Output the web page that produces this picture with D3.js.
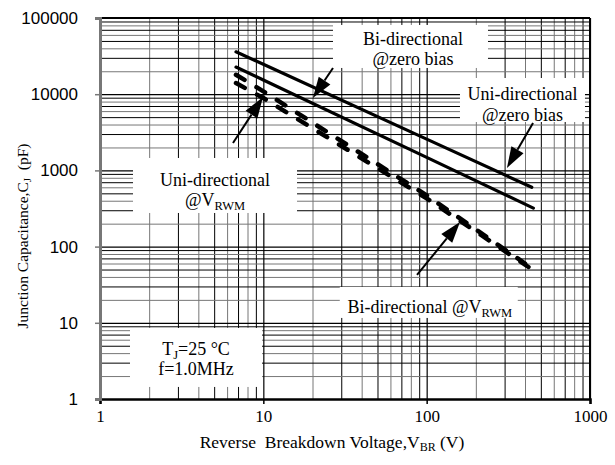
<!DOCTYPE html>
<html>
<head>
<meta charset="utf-8">
<script src="https://cdn.jsdelivr.net/npm/d3@7"></script>
<style>
  body { margin: 0; background: #fff; }
  text { white-space: pre; }
</style>
</head>
<body>
<script>
// reverse breakdown voltage (V) and capacitance (pF)
var uniZeroV = [6.8, 10, 100, 440];
var uniZeroC = [36000, 24700, 2575, 600];
var biZeroV = [6.8, 10, 100, 450];
var biZeroC = [22700, 15350, 1480, 320];
var uniRwmV = [6.8, 10, 100, 400];
var uniRwmC = [18000, 10900, 470, 60];
var biRwmV = [6.8, 10, 100, 420];
var biRwmC = [14000, 8900, 430, 54];

var xTicks = [1, 10, 100, 1000];
var yTicks = [1, 10, 100, 1000, 10000, 100000];

var w = 615, h = 465;
var pLeft = 100, pRight = 590, pTop = 18, pBottom = 399;

var x = d3.scaleLog().domain([1, 1000]).range([pLeft, pRight]);
var y = d3.scaleLog().domain([1, 100000]).range([pBottom, pTop]);

var serif = "Liberation Serif, Times New Roman, serif";

var svg = d3.select("body").append("svg")
  .attr("width", w)
  .attr("height", h);

// minor / major grid
var xMinor = [], yMinor = [];
for (var d = 1; d < 1000; d *= 10)
  for (var k = 2; k <= 9; k++) xMinor.push(d * k);
for (var d2 = 1; d2 < 100000; d2 *= 10)
  for (var k2 = 2; k2 <= 9; k2++) yMinor.push(d2 * k2);

svg.append("g")
  .attr("transform", "translate(0," + pBottom + ")")
  .call(d3.axisBottom(x).tickValues(xMinor).tickSize(-(pBottom - pTop)).tickFormat(""))
  .call(function(g) { g.select(".domain").remove(); })
  .selectAll("line")
  .attr("stroke", function(d, i) { return i % 2 ? "#000" : "#777"; })
  .attr("stroke-width", 1);

svg.append("g")
  .attr("transform", "translate(" + pLeft + ",0)")
  .call(d3.axisLeft(y).tickValues(yMinor).tickSize(-(pRight - pLeft)).tickFormat(""))
  .call(function(g) { g.select(".domain").remove(); })
  .selectAll("line")
  .attr("stroke", function(d, i) { return i % 2 ? "#000" : "#777"; })
  .attr("stroke-width", 1);

svg.append("g")
  .attr("transform", "translate(0," + pBottom + ")")
  .call(d3.axisBottom(x).tickValues(xTicks).tickSize(-(pBottom - pTop)).tickFormat(""))
  .call(function(g) { g.select(".domain").remove(); })
  .selectAll("line").attr("stroke", "#000").attr("stroke-width", 1.2);

svg.append("g")
  .attr("transform", "translate(" + pLeft + ",0)")
  .call(d3.axisLeft(y).tickValues(yTicks).tickSize(-(pRight - pLeft)).tickFormat(""))
  .call(function(g) { g.select(".domain").remove(); })
  .selectAll("line").attr("stroke", "#000").attr("stroke-width", 1.2);

// curves
var line = d3.line()
  .x(function(p) { return x(p[0]); })
  .y(function(p) { return y(p[1]); });

function pts(vs, cs) { return vs.map(function(v, i) { return [v, cs[i]]; }); }

svg.append("path").datum(pts(uniZeroV, uniZeroC))
  .attr("d", line).attr("fill", "none").attr("stroke", "#000")
  .attr("stroke-width", 3.2).attr("stroke-linecap", "round");
svg.append("path").datum(pts(biZeroV, biZeroC))
  .attr("d", line).attr("fill", "none").attr("stroke", "#000")
  .attr("stroke-width", 3.2).attr("stroke-linecap", "round");
svg.append("path").datum(pts(uniRwmV, uniRwmC))
  .attr("d", line).attr("fill", "none").attr("stroke", "#000")
  .attr("stroke-width", 4.5).attr("stroke-linecap", "round")
  .attr("stroke-dasharray", "10,14");
svg.append("path").datum(pts(biRwmV, biRwmC))
  .attr("d", line).attr("fill", "none").attr("stroke", "#000")
  .attr("stroke-width", 4.5).attr("stroke-linecap", "round")
  .attr("stroke-dasharray", "10,14");

// frame
svg.append("line").attr("x1", pLeft).attr("x2", pRight).attr("y1", pTop).attr("y2", pTop)
  .attr("stroke", "#000").attr("stroke-width", 2);
svg.append("line").attr("x1", pRight).attr("x2", pRight).attr("y1", pTop).attr("y2", pBottom)
  .attr("stroke", "#000").attr("stroke-width", 2);

// axes
var xAxis = svg.append("g")
  .attr("transform", "translate(0," + pBottom + ")")
  .call(d3.axisBottom(x).tickValues(xTicks).tickSize(5).tickPadding(6).tickFormat(d3.format("d")));
xAxis.select(".domain").attr("stroke", "#000").attr("stroke-width", 2.5);
xAxis.selectAll("line").attr("stroke", "#000").attr("stroke-width", 1.5);
xAxis.selectAll("text")
  .attr("font-family", serif)
  .attr("font-size", 17).attr("fill", "#000");

var yAxis = svg.append("g")
  .attr("transform", "translate(" + pLeft + ",0)")
  .call(d3.axisLeft(y).tickValues(yTicks).tickSize(5).tickPadding(17).tickFormat(d3.format("d")));
yAxis.select(".domain").attr("stroke", "#777").attr("stroke-width", 3);
yAxis.selectAll("line").attr("stroke", "#777").attr("stroke-width", 1.5);
yAxis.selectAll("text")
  .attr("font-family", "Liberation Sans, Arial, sans-serif")
  .attr("font-size", 17).attr("fill", "#000");

// axis titles
var xt = svg.append("text")
  .attr("x", 332).attr("y", 448)
  .attr("text-anchor", "middle")
  .attr("font-family", serif).attr("font-size", 17.5);
xt.append("tspan").text("Reverse  Breakdown Voltage,V");
xt.append("tspan").attr("font-size", 12).attr("dy", 3).text("BR");
xt.append("tspan").attr("dy", -3).text(" (V)");

var yt = svg.append("text")
  .attr("transform", "translate(28,236) rotate(-90)")
  .attr("text-anchor", "middle")
  .attr("font-family", serif).attr("font-size", 15.5);
yt.append("tspan").text("Junction Capacitance,C");
yt.append("tspan").attr("font-size", 11).attr("dy", 3).text("J");
yt.append("tspan").attr("dy", -3).text("  (pF)");

// arrows (data coords)
var arrows = [
  { from: [6.52, 2290], to: [9.95, 9190] },
  { from: [26.7, 22100], to: [20.1, 8920] },
  { from: [448, 4190], to: [310, 1075] },
  { from: [87.3, 42.4], to: [160, 210] }
];

arrows.forEach(function(a) {
  var x1 = x(a.from[0]), y1 = y(a.from[1]);
  var x2 = x(a.to[0]), y2 = y(a.to[1]);
  var ang = Math.atan2(y2 - y1, x2 - x1);
  var len = 21, half = 7;
  var bx = x2 - len * Math.cos(ang), by = y2 - len * Math.sin(ang);
  svg.append("line")
    .attr("x1", x1).attr("y1", y1).attr("x2", bx).attr("y2", by)
    .attr("stroke", "#000").attr("stroke-width", 2);
  svg.append("path")
    .attr("d", "M" + x2 + "," + y2 +
      "L" + (bx + half * Math.sin(ang)) + "," + (by - half * Math.cos(ang)) +
      "L" + (bx - half * Math.sin(ang)) + "," + (by + half * Math.cos(ang)) + "Z")
    .attr("fill", "#000");
});

// label boxes: centre in data coords, text baseline offset from centre
var labels = [
  { at: [79.6, 42300], w: 155, h: 43, dx: 2.5, dy: -1.5, lines: [["Bi-directional"], ["@zero bias"]] },
  { at: [386, 8390], w: 125, h: 44, dx: 0, dy: 0, lines: [["Uni-directional"], ["@zero bias"]] },
  { at: [5.06, 634], w: 164, h: 55, dx: 0, dy: 0.5, lines: [["Uni-directional"], ["@V", "RWM"]] },
  { at: [103, 18.5], w: 178, h: 31, dx: 1, dy: 10.5, lines: [["Bi-directional @V", "RWM"]] },
  { at: [3.87, 3.51], w: 132, h: 59, dx: 0, dy: -2.5, lines: [["T", "J", "=25 °C"], ["f=1.0MHz"]] }
];

labels.forEach(function(l) {
  var cx = x(l.at[0]), cy = y(l.at[1]);
  svg.append("rect")
    .attr("x", cx - l.w / 2).attr("y", cy - l.h / 2)
    .attr("width", l.w).attr("height", l.h)
    .attr("fill", "#fff");
  l.lines.forEach(function(parts, i) {
    var t = svg.append("text")
      .attr("x", cx + l.dx)
      .attr("y", cy + l.dy + i * 20.5)
      .attr("text-anchor", "middle")
      .attr("font-family", serif).attr("font-size", 18);
    parts.forEach(function(p, j) {
      var s = t.append("tspan").text(p);
      if (j % 2 == 1) s.attr("font-size", 12.5).attr("dy", 4);
      else if (j > 0) s.attr("dy", -4);
    });
  });
});
</script>
</body>
</html>
